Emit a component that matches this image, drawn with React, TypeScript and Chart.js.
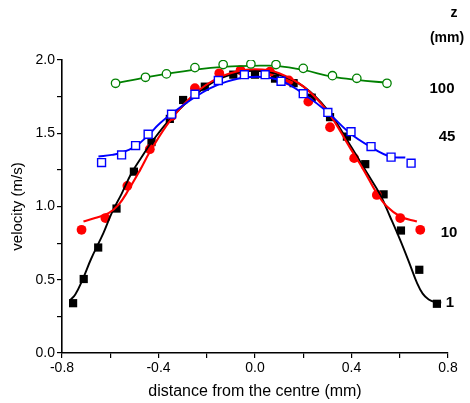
import React, { useEffect, useRef } from "react";
import { Chart, registerables } from "chart.js";

Chart.register(...registerables);

// ---- measured points (distance mm, velocity m/s) ----
const xZ1 = [-0.754, -0.71, -0.65, -0.574, -0.502, -0.429, -0.353, -0.298, -0.208, -0.09, 0.0, 0.083, 0.16, 0.235, 0.311, 0.381, 0.457, 0.533, 0.605, 0.681, 0.754];
const yZ1 = [0.34, 0.505, 0.72, 0.986, 1.238, 1.44, 1.598, 1.727, 1.818, 1.9, 1.9, 1.873, 1.842, 1.743, 1.61, 1.477, 1.289, 1.083, 0.836, 0.568, 0.336];

const xZ10 = [-0.719, -0.62, -0.529, -0.436, -0.345, -0.249, -0.148, -0.06, 0.062, 0.14, 0.221, 0.311, 0.411, 0.505, 0.602, 0.685];
const yZ10 = [0.841, 0.921, 1.141, 1.391, 1.618, 1.807, 1.909, 1.93, 1.92, 1.86, 1.716, 1.541, 1.33, 1.079, 0.921, 0.841];

const xZ45 = [-0.636, -0.553, -0.495, -0.443, -0.346, -0.249, -0.152, -0.044, 0.042, 0.108, 0.2, 0.302, 0.398, 0.481, 0.564, 0.647];
const yZ45 = [1.3, 1.352, 1.416, 1.493, 1.63, 1.766, 1.86, 1.9, 1.9, 1.855, 1.77, 1.642, 1.511, 1.409, 1.337, 1.296];

const xZ100 = [-0.578, -0.454, -0.367, -0.249, -0.132, -0.017, 0.087, 0.2, 0.321, 0.422, 0.547];
const yZ100 = [1.841, 1.882, 1.905, 1.948, 1.969, 1.973, 1.969, 1.943, 1.893, 1.875, 1.841];

// ---- fitted curves ----
const fitX1 = [-0.767, -0.745, -0.715, -0.68, -0.628, -0.594, -0.552, -0.511, -0.469, -0.428, -0.35, -0.25, -0.15, -0.05, 0.02, 0.1, 0.2, 0.3, 0.394, 0.464, 0.519, 0.56, 0.602, 0.643, 0.671, 0.695, 0.72, 0.745, 0.772];
const fitY1 = [0.36, 0.4, 0.5, 0.64, 0.82, 0.955, 1.09, 1.23, 1.34, 1.44, 1.6, 1.76, 1.87, 1.92, 1.925, 1.9, 1.82, 1.66, 1.42, 1.23, 1.08, 0.93, 0.77, 0.6, 0.48, 0.405, 0.365, 0.348, 0.345];

const fitX10 = [-0.711, -0.663, -0.607, -0.566, -0.524, -0.476, -0.435, -0.35, -0.25, -0.15, -0.05, 0.03, 0.1, 0.2, 0.3, 0.394, 0.45, 0.505, 0.547, 0.602, 0.671];
const fitY10 = [0.897, 0.921, 0.955, 1.011, 1.114, 1.25, 1.375, 1.59, 1.77, 1.88, 1.93, 1.935, 1.91, 1.82, 1.65, 1.4, 1.25, 1.09, 1.0, 0.932, 0.897];

const fitX45 = [-0.649, -0.594, -0.552, -0.497, -0.448, -0.394, -0.325, -0.256, -0.187, -0.117, -0.034, 0.049, 0.117, 0.208, 0.298, 0.394, 0.477, 0.56, 0.623];
const fitY45 = [1.341, 1.352, 1.368, 1.409, 1.477, 1.568, 1.659, 1.739, 1.807, 1.852, 1.882, 1.882, 1.852, 1.761, 1.648, 1.5, 1.409, 1.341, 1.334];

const fitX100 = [-0.581, -0.45, -0.256, -0.117, 0.021, 0.09, 0.2, 0.321, 0.422, 0.547];
const fitY100 = [1.84, 1.882, 1.932, 1.955, 1.961, 1.96, 1.932, 1.886, 1.864, 1.845];

// ---- series labels at right ----
const seriesLabels = ["100", "45", "10", "1"];
const seriesLabelY = [1.805, 1.475, 0.82, 0.345];
const headerLabels = ["z", "(mm)"];

const pts = (xs: number[], ys: number[]) => xs.map((x, i) => ({ x, y: ys[i] }));

const FONT = "'Liberation Sans', Arial, Helvetica, sans-serif";

const labelPlugin = {
  id: "rightLabels",
  afterDraw(chart: any) {
    const { ctx, chartArea, scales } = chart;
    ctx.save();
    ctx.fillStyle = "#000";
    ctx.textBaseline = "middle";
    ctx.textAlign = "center";
    ctx.font = `bold 15px ${FONT}`;
    const offs = [-6, -1, 1, 2];
    seriesLabels.forEach((t, i) => {
      ctx.fillText(t, chartArea.right + offs[i], scales.y.getPixelForValue(seriesLabelY[i]));
    });
    ctx.font = `bold 14px ${FONT}`;
    ctx.fillText(headerLabels[0], chartArea.right + 6, chartArea.top - 47);
    ctx.fillText(headerLabels[1], chartArea.right - 1, chartArea.top - 22);
    ctx.restore();
  },
};

export default function App() {
  const ref = useRef<HTMLCanvasElement | null>(null);

  useEffect(() => {
    document.body.style.margin = "0";
    if (!ref.current) return;
    const line = (xs: number[], ys: number[], color: string, w: number) => ({
      data: pts(xs, ys),
      showLine: true,
      borderColor: color,
      borderWidth: w,
      pointRadius: 0,
      tension: 0.4,
      fill: false,
    });
    const chart = new Chart(ref.current, {
      type: "scatter",
      data: {
        datasets: [
          {
            data: pts(xZ100, yZ100),
            pointStyle: "circle",
            pointRadius: 4.2,
            backgroundColor: "#ffffff",
            borderColor: "#008000",
            borderWidth: 1.3,
          },
          line(fitX100, fitY100, "#008000", 1.8),
          {
            data: pts(xZ45, yZ45),
            pointStyle: "rect",
            pointRadius: 5.6,
            backgroundColor: "#ffffff",
            borderColor: "#0000ff",
            borderWidth: 1.4,
          },
          line(fitX45, fitY45, "#0000ff", 1.9),
          line(fitX10, fitY10, "#ff0000", 2.1),
          line(fitX1, fitY1, "#000000", 1.9),
          {
            data: pts(xZ10, yZ10),
            pointStyle: "circle",
            pointRadius: 4.9,
            backgroundColor: "#ff0000",
            borderColor: "#ff0000",
            borderWidth: 0,
          },
          {
            data: pts(xZ1, yZ1),
            pointStyle: "rect",
            pointRadius: 5.8,
            backgroundColor: "#000000",
            borderColor: "#000000",
            borderWidth: 0,
          },
        ] as any,
      },
      options: {
        animation: false,
        responsive: false,
        maintainAspectRatio: false,
        layout: { padding: { left: 0, top: 60, right: 22, bottom: 0 } },
        plugins: { legend: { display: false }, tooltip: { enabled: false } },
        scales: {
          x: {
            type: "linear",
            min: -0.8,
            max: 0.8,
            afterFit: (s: any) => {
              s.height = 50;
            },
            ticks: {
              stepSize: 0.2,
              color: "#000",
              padding: 2,
              maxRotation: 0,
              autoSkip: false,
              font: { family: FONT, size: 14 },
              callback: (v: any) => {
                const n = Math.abs(v) < 1e-9 ? 0 : Number(v);
                const k = n / 0.4;
                return Math.abs(k - Math.round(k)) < 1e-6 ? n.toFixed(1) : "";
              },
            },
            grid: { display: true, drawOnChartArea: false, drawTicks: true, tickLength: 5, color: "#000", lineWidth: 1.2 },
            border: { display: true, color: "#000", width: 1.6 },
            title: {
              display: true,
              text: "distance from the centre (mm)",
              color: "#000",
              font: { family: FONT, size: 16 },
              padding: { top: 0, bottom: 2 },
            },
          },
          y: {
            type: "linear",
            min: 0,
            max: 2,
            afterFit: (s: any) => {
              s.width = 62;
            },
            ticks: {
              stepSize: 0.25,
              color: "#000",
              padding: 2,
              autoSkip: false,
              font: { family: FONT, size: 14 },
              callback: (v: any) => {
                const n = Number(v);
                const k = n / 0.5;
                return Math.abs(k - Math.round(k)) < 1e-6 ? n.toFixed(1) : "";
              },
            },
            grid: { display: true, drawOnChartArea: false, drawTicks: true, tickLength: 5, color: "#000", lineWidth: 1.2 },
            border: { display: true, color: "#000", width: 1.6 },
            title: {
              display: true,
              text: "velocity (m/s)",
              color: "#000",
              font: { family: FONT, size: 15 },
              padding: { top: 9, bottom: 0 },
            },
          },
        },
      },
      plugins: [labelPlugin],
    });
    return () => chart.destroy();
  }, []);

  return (
    <div style={{ width: 470, height: 403, position: "relative" }}>
      <canvas ref={ref} width={470} height={403} style={{ display: "block", width: 470, height: 403 }} />
    </div>
  );
}
